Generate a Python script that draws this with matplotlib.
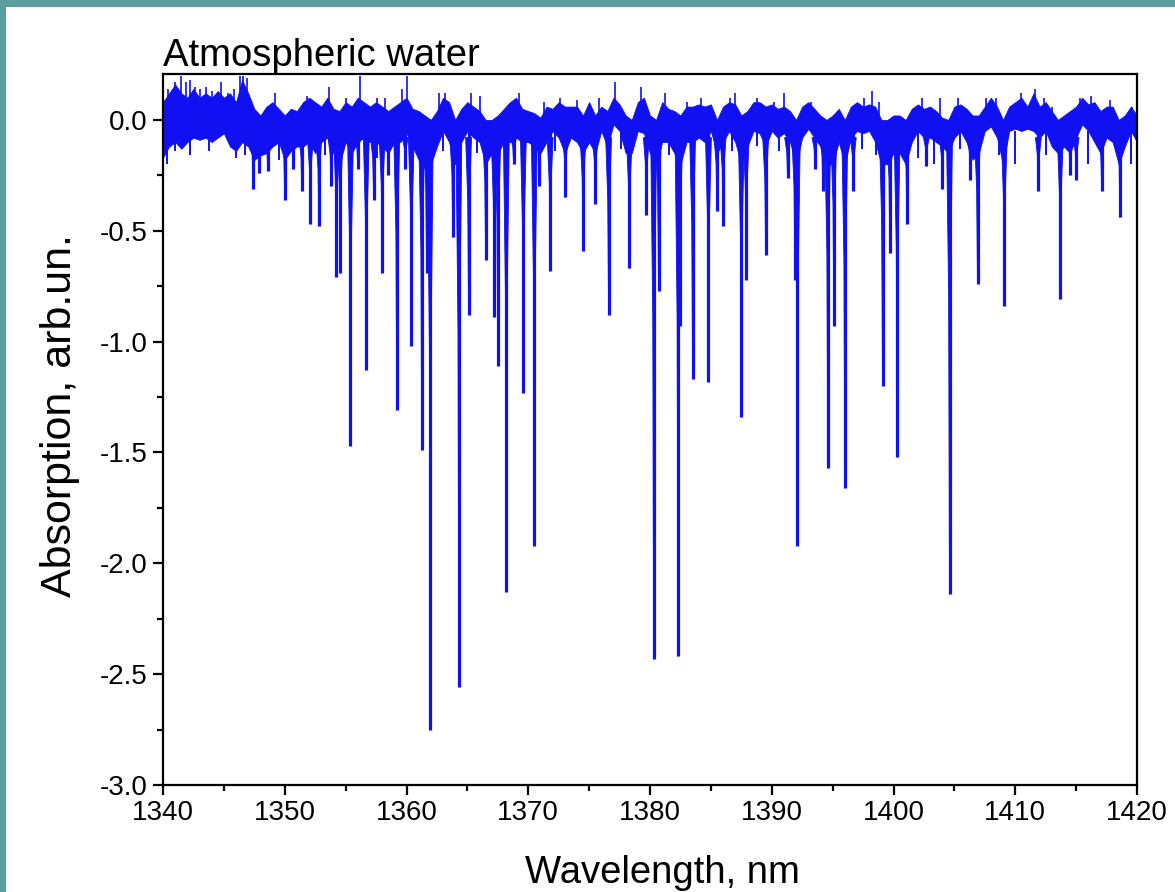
import numpy as np
import matplotlib
matplotlib.use("Agg")
import matplotlib.pyplot as plt
from matplotlib.patches import Rectangle, Polygon
from matplotlib.ticker import MultipleLocator

plt.rcParams['font.family'] = ['Liberation Sans', 'DejaVu Sans']

# ---- noise band envelope (read every 0.5 nm) ----
env_wl = [1340.0 + 0.5 * i for i in range(161)]
env_top = [0.08, 0.12, 0.16, 0.12, 0.10, 0.14, 0.10, 0.12, 0.10, 0.13,
           0.10, 0.12, 0.08, 0.18, 0.12, 0.05, 0.02, 0.06, 0.08, 0.05,
           0.02, 0.05, 0.04, 0.08, 0.10, 0.08, 0.06, 0.10, 0.05, 0.04,
           0.08, 0.06, 0.10, 0.08, 0.06, 0.08, 0.06, 0.04, 0.06, 0.08,
           0.10, 0.05, 0.04, 0.02, 0.00, 0.04, 0.10, 0.08, 0.00, 0.05,
           0.08, 0.06, 0.04, 0.00, 0.00, 0.02, 0.05, 0.08, 0.10, 0.05,
           0.04, 0.03, 0.01, 0.06, 0.05, 0.08, 0.06, 0.06, 0.06, 0.02,
           0.08, 0.02, 0.06, 0.04, 0.10, 0.07, 0.02, 0.00, 0.08, 0.10,
           0.02, 0.00, 0.08, 0.05, 0.04, 0.02, 0.06, 0.06, 0.07, 0.06,
           0.07, 0.00, 0.06, 0.08, 0.07, 0.02, 0.04, 0.08, 0.08, 0.06,
           0.07, 0.05, 0.06, 0.04, 0.00, 0.06, 0.08, 0.05, 0.02, 0.00,
           0.02, 0.05, 0.00, 0.06, 0.08, 0.06, 0.07, 0.06, 0.00, 0.00,
           0.02, 0.02, 0.00, 0.05, 0.07, 0.05, 0.06, 0.04, 0.01, 0.00,
           0.06, 0.07, 0.05, 0.02, 0.02, 0.06, 0.10, 0.06, 0.00, 0.06,
           0.08, 0.10, 0.06, 0.12, 0.06, 0.08, 0.04, 0.00, 0.02, 0.04,
           0.06, 0.10, 0.07, 0.08, 0.04, 0.06, 0.06, 0.00, 0.02, 0.06,
           0.02]
env_bot = [-0.17, -0.12, -0.10, -0.13, -0.10, -0.08, -0.09, -0.08, -0.10, -0.08,
           -0.06, -0.12, -0.14, -0.10, -0.12, -0.18, -0.16, -0.15, -0.12, -0.10,
           -0.18, -0.14, -0.12, -0.12, -0.10, -0.15, -0.10, -0.08, -0.15, -0.20,
           -0.10, -0.15, -0.10, -0.08, -0.10, -0.10, -0.12, -0.15, -0.10, -0.10,
           -0.06, -0.12, -0.18, -0.22, -0.20, -0.12, -0.05, -0.10, -0.20, -0.10,
           -0.05, -0.08, -0.10, -0.20, -0.15, -0.15, -0.10, -0.10, -0.08, -0.10,
           -0.10, -0.12, -0.15, -0.10, -0.05, -0.08, -0.15, -0.08, -0.10, -0.15,
           -0.10, -0.15, -0.05, -0.12, -0.02, -0.05, -0.15, -0.15, -0.05, -0.06,
           -0.15, -0.20, -0.10, -0.10, -0.15, -0.20, -0.10, -0.10, -0.08, -0.10,
           -0.05, -0.15, -0.10, -0.05, -0.10, -0.20, -0.12, -0.05, -0.06, -0.12,
           -0.05, -0.08, -0.06, -0.10, -0.20, -0.08, -0.04, -0.08, -0.12, -0.20,
           -0.20, -0.10, -0.20, -0.08, -0.05, -0.06, -0.05, -0.10, -0.20, -0.20,
           -0.15, -0.15, -0.20, -0.10, -0.05, -0.08, -0.08, -0.10, -0.12, -0.15,
           -0.08, -0.05, -0.10, -0.18, -0.15, -0.05, -0.03, -0.08, -0.20, -0.05,
           -0.04, -0.05, -0.04, -0.05, -0.08, -0.05, -0.12, -0.15, -0.12, -0.15,
           -0.08, -0.02, -0.05, -0.10, -0.15, -0.08, -0.10, -0.20, -0.12, -0.05,
           -0.10]

# ---- absorption lines: centre (nm) and minimum (arb.un.) ----
line_wl = [1347.4, 1347.9, 1348.6, 1350.0, 1350.7, 1351.4, 1352.1, 1352.8,
           1353.8, 1354.25, 1354.55, 1355.4, 1356.0, 1356.7, 1357.3, 1358.0,
           1358.5, 1359.2, 1359.9, 1360.4, 1361.25, 1361.65, 1361.95, 1363.8,
           1364.3, 1365.1, 1366.5, 1367.2, 1367.5, 1368.2, 1368.8, 1369.6,
           1370.5, 1370.9, 1371.8, 1373.05, 1374.5, 1375.5, 1376.6, 1378.3,
           1379.7, 1380.3, 1380.7, 1382.3, 1382.45, 1383.5, 1384.8, 1385.5,
           1386.0, 1387.5, 1387.9, 1389.5, 1391.3, 1391.9, 1392.1, 1393.55,
           1394.2, 1394.6, 1395.1, 1396.0, 1396.7, 1399.1, 1399.7, 1400.3,
           1401.1, 1402.7, 1404.0, 1404.6, 1406.3, 1406.9, 1409.1, 1411.9,
           1413.7, 1414.5, 1415.0, 1417.1, 1418.6]
line_min = [-0.31, -0.24, -0.23, -0.36, -0.22, -0.32, -0.47, -0.48,
            -0.30, -0.71, -0.69, -1.47, -0.22, -1.13, -0.36, -0.69,
            -0.25, -1.31, -0.22, -1.02, -1.49, -0.69, -2.75, -0.53,
            -2.56, -0.88, -0.63, -0.89, -1.11, -2.13, -0.20, -1.23,
            -1.92, -0.30, -0.68, -0.35, -0.59, -0.38, -0.88, -0.67,
            -0.43, -2.43, -0.77, -2.42, -0.93, -1.17, -1.18, -0.41,
            -0.48, -1.34, -0.72, -0.61, -0.26, -0.72, -1.92, -0.22,
            -0.32, -1.57, -0.93, -1.66, -0.32, -1.20, -0.60, -1.52,
            -0.47, -0.21, -0.31, -2.14, -0.27, -0.74, -0.84, -0.32,
            -0.81, -0.25, -0.27, -0.32, -0.44]

# ---- small downward noise dips ----
dip_wl = [1340.3, 1341.0, 1342.2, 1343.8, 1346.0, 1346.7, 1349.5, 1353.3,
          1357.6, 1363.0, 1365.8, 1372.2, 1377.6, 1381.6, 1386.7, 1388.8,
          1390.6, 1397.4, 1398.6, 1402.0, 1403.3, 1405.5, 1408.7, 1410.0,
          1412.5, 1416.0, 1419.5]
dip_min = [-0.20, -0.14, -0.16, -0.14, -0.17, -0.16, -0.18, -0.16,
           -0.17, -0.14, -0.15, -0.14, -0.13, -0.16, -0.14, -0.12,
           -0.14, -0.13, -0.16, -0.17, -0.20, -0.13, -0.16, -0.20,
           -0.16, -0.20, -0.20]

# ---- upward noise spikes ----
spike_wl = [1340.4, 1340.8, 1341.0, 1341.5, 1341.9, 1342.2, 1342.6, 1343.0,
            1343.5, 1344.0, 1344.8, 1345.3, 1345.8, 1346.3, 1346.6, 1346.9,
            1349.2, 1351.8, 1353.6, 1355.0, 1356.2, 1357.6, 1358.2, 1359.6,
            1360.0, 1362.7, 1363.2, 1365.3, 1366.0, 1369.2, 1371.3, 1372.6,
            1374.0, 1375.8, 1377.1, 1379.3, 1381.2, 1383.0, 1384.2, 1386.6,
            1387.0, 1388.8, 1390.2, 1391.0, 1393.2, 1397.6, 1398.2, 1398.8,
            1402.3, 1403.8, 1405.3, 1407.6, 1408.4, 1410.5, 1411.6, 1412.4,
            1413.0, 1415.3, 1416.2, 1417.8, 1419.6]
spike_max = [0.14, 0.12, 0.17, 0.20, 0.17, 0.18, 0.15, 0.14,
             0.15, 0.13, 0.17, 0.12, 0.14, 0.20, 0.20, 0.19,
             0.12, 0.11, 0.15, 0.10, 0.20, 0.10, 0.10, 0.14,
             0.20, 0.12, 0.12, 0.12, 0.11, 0.12, 0.08, 0.10,
             0.09, 0.10, 0.17, 0.15, 0.12, 0.08, 0.10, 0.10,
             0.12, 0.10, 0.08, 0.12, 0.08, 0.10, 0.13, 0.08,
             0.10, 0.10, 0.10, 0.10, 0.10, 0.12, 0.14, 0.10,
             0.06, 0.10, 0.11, 0.09, 0.06]

x_ticks = [1340, 1350, 1360, 1370, 1380, 1390, 1400, 1410, 1420]
y_ticks = [0.0, -0.5, -1.0, -1.5, -2.0, -2.5, -3.0]

W, H = 1175, 892
fig = plt.figure(figsize=(W / 100, H / 100), dpi=100)
fig.patch.set_facecolor('white')

# teal frame on top and left
teal = '#5a9f9d'
fig.add_artist(Rectangle((0, 1 - 7 / H), 1, 7 / H, transform=fig.transFigure,
                         facecolor=teal, edgecolor='none', zorder=0))
fig.add_artist(Rectangle((0, 0), 6 / W, 1, transform=fig.transFigure,
                         facecolor=teal, edgecolor='none', zorder=0))

ax = fig.add_axes([163 / W, 1 - 785 / H, (1137 - 163) / W, (785 - 74) / H])

blue = '#1010f2'
ax.fill_between(env_wl, env_bot, env_top, color=blue, lw=0.6, zorder=2)

# absorption lines: narrow V shape plus a core stroke
half_w = 0.24
for c, m in zip(line_wl, line_min):
    shoulder = -0.08
    mid = shoulder + 0.35 * (m - shoulder)
    ax.add_patch(Polygon([(c - half_w, shoulder), (c + half_w, shoulder),
                          (c + 0.07, mid), (c, m), (c - 0.07, mid)],
                         closed=True, facecolor=blue, edgecolor=blue,
                         lw=0.6, zorder=3))
ax.vlines(line_wl, -0.05, line_min, color=blue, lw=2.3, zorder=3)
ax.vlines(dip_wl, -0.05, dip_min, color=blue, lw=1.4, zorder=3)
ax.vlines(spike_wl, 0.0, spike_max, color=blue, lw=1.2, zorder=3)

ax.set_xlim(1340, 1420)
ax.set_ylim(-3.0, 0.207)
ax.set_xticks(x_ticks)
ax.set_xticklabels([str(v) for v in x_ticks])
ax.set_yticks(y_ticks)
ax.set_yticklabels([f"{v:.1f}" for v in y_ticks])
ax.xaxis.set_minor_locator(MultipleLocator(5))
ax.yaxis.set_minor_locator(MultipleLocator(0.25))

for s in ax.spines.values():
    s.set_linewidth(1.6)
ax.tick_params(which='major', direction='out', length=7, width=1.6,
               labelsize=20, pad=4)
ax.tick_params(which='minor', direction='out', length=4, width=1.6)

ax.set_xlabel('Wavelength, nm', fontsize=27.5)
ax.set_ylabel('Absorption, arb.un.', fontsize=31)
ax.xaxis.set_label_coords(0.5 + 12 / 974, -0.099)
ax.yaxis.set_label_coords(-0.085, 0.5 + 14 / 711)
ax.set_title('Atmospheric water', fontsize=27.5, loc='left', pad=4, x=0.0)

fig.savefig('out.png', dpi=100)
